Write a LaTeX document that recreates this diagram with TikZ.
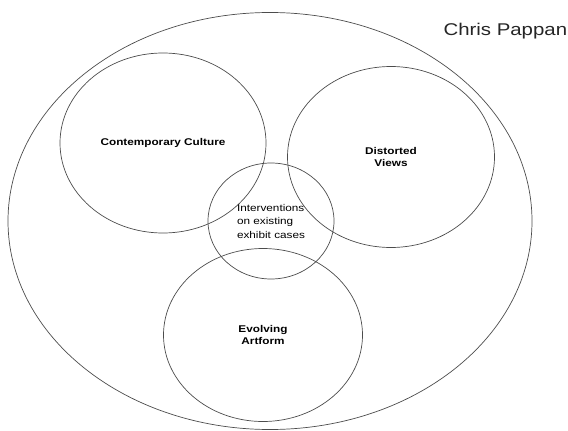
\documentclass[tikz,border=0pt]{standalone}
\usepackage{fontspec}
\setmainfont{Liberation Sans}[FakeStretch=1.2]
\usetikzlibrary{shapes.geometric}

\tikzset{
    venn/.style={ellipse, draw=black!70, line width=0.7pt, inner sep=0pt, align=center},
    vennlabel/.style={font=\fontsize{9.8}{12.5}\selectfont\bfseries}
}

\begin{document}
\begin{tikzpicture}[x=1pt, y=-1pt]
    \useasboundingbox (0,0) rectangle (568,431);

    % the whole field
    \node[venn, minimum width=524pt, minimum height=417pt] (field) at (270,221) {};
    \node[font=\fontsize{17}{20}\selectfont, text=black!85, anchor=base west] (author) at (440,35) {Chris Pappan};

    % the three themes
    \node[venn, vennlabel, minimum width=206pt, minimum height=180pt] (culture) at (163,143) {Contemporary Culture};
    \node[venn, vennlabel, minimum width=207pt, minimum height=181pt] (views) at (391,157) {Distorted\\Views};
    \node[venn, vennlabel, minimum width=199pt, minimum height=173pt] (artform) at (263,335) {Evolving\\Artform};

    % where they meet
    \node[venn, align=left, font=\fontsize{9.8}{13.5}\selectfont, minimum width=126pt, minimum height=116pt] (cases) at (271,221) {Interventions\\on existing\\exhibit cases};
\end{tikzpicture}
\end{document}
